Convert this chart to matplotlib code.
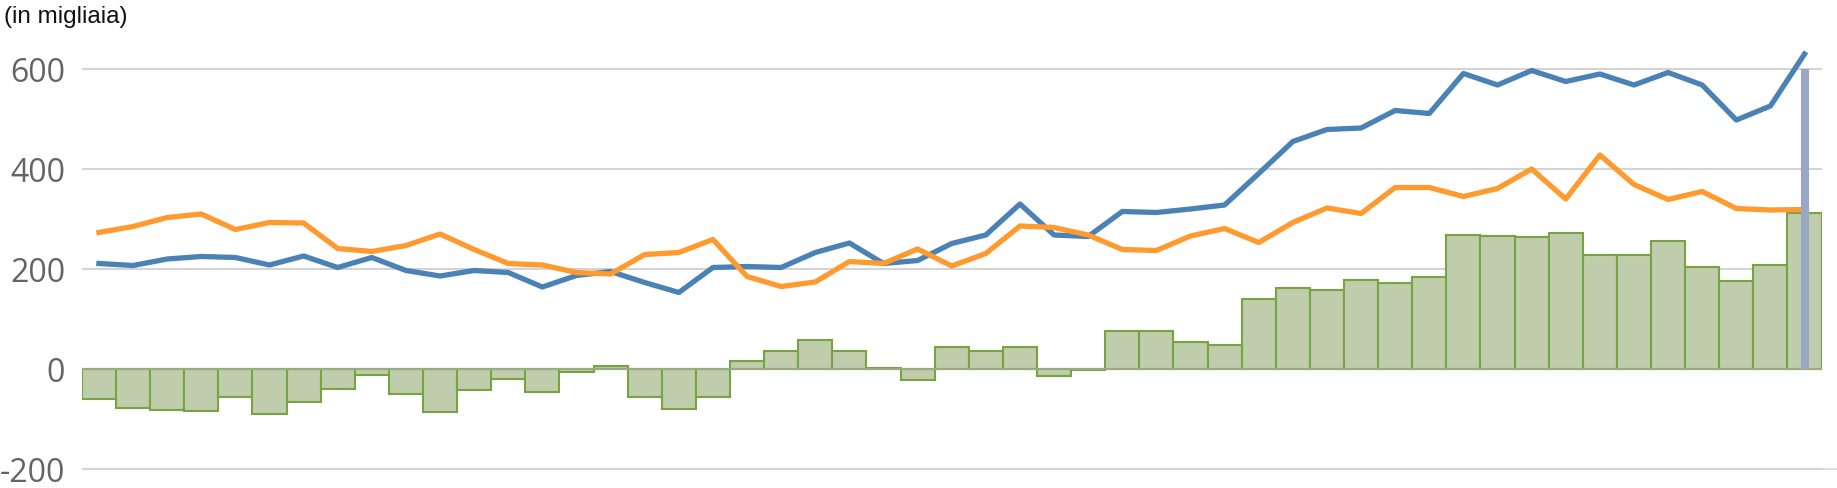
import matplotlib.pyplot as plt
import matplotlib.transforms as mtransforms
import numpy as np

# Values (in thousands)
saldo = [-60, -77, -82, -84, -55, -89, -66, -39, -11, -50,
         -86, -42, -20, -46, -6, 7, -55, -79, -55, 17,
         37, 59, 37, 3, -21, 45, 37, 45, -14, -1,
         77, 77, 55, 49, 141, 163, 159, 179, 173, 185,
         269, 267, 265, 273, 229, 229, 257, 205, 177, 209,
         313]
blue = [211, 207, 220, 225, 223, 208, 226, 203, 223, 197,
        186, 197, 193, 164, 187, 195, 173, 153, 203, 205,
        203, 233, 252, 211, 217, 251, 268, 330, 268, 265,
        315, 313, 320, 328, 391, 455, 479, 482, 517, 511,
        591, 568, 597, 575, 590, 568, 593, 568, 498, 526,
        630]
orange = [273, 285, 303, 310, 279, 293, 292, 241, 235, 247,
          270, 239, 211, 208, 193, 190, 229, 233, 259, 185,
          165, 174, 215, 211, 240, 206, 231, 286, 283, 268,
          239, 237, 266, 281, 253, 293, 322, 311, 363, 363,
          345, 361, 400, 340, 428, 369, 339, 355, 321, 318,
          319]
yticks = [-200, 0, 200, 400, 600]

x = np.arange(len(saldo))

fig = plt.figure(figsize=(18.37, 4.88), dpi=100)
ax = fig.add_axes([81.85 / 1837, 14 / 488, (1821.6 - 81.85) / 1837, 425 / 488])

ax.bar(x, saldo, width=1.0, color='#c0cdac', edgecolor='#77a340', linewidth=1.5, zorder=2)
ax.plot([-0.5, len(x) - 0.5], [0, 0], color='#9aab80', linewidth=1.5, zorder=3)
ax.plot(x, blue, color='#4a82b6', linewidth=3.8, zorder=4, clip_on=False)
ax.plot(x, orange, color='#ff9a2e', linewidth=3.8, zorder=4, clip_on=False)
ax.vlines(x[-1], 0, 600, color='#9aa8c8', linewidth=5.8, zorder=5)

ax.set_xlim(-0.5, len(x) - 0.5)
ax.set_ylim(-210, 640)
ax.set_yticks(yticks)
ax.set_yticklabels([str(v) for v in yticks], fontsize=23, color='#646464', family='Open Sans')
ax.tick_params(axis='y', length=0, pad=12)
ax.set_xticks([])
ax.grid(axis='y', color='#d4d4d4', linewidth=1.5, zorder=0)
for s in ax.spines.values():
    s.set_visible(False)

# bottom gridline runs on to the right edge
trans = mtransforms.blended_transform_factory(fig.transFigure, ax.transData)
ax.plot([1821.6 / 1837, 1.0], [-200, -200], color='#dcdcdc', linewidth=1.5,
        transform=trans, clip_on=False, zorder=0)

fig.text(4 / 1837, 1 - 17 / 488, '(in migliaia)', fontsize=17.5, family='Liberation Sans',
         color='#111111', va='center', ha='left')

fig.savefig('out.png', dpi=100)
